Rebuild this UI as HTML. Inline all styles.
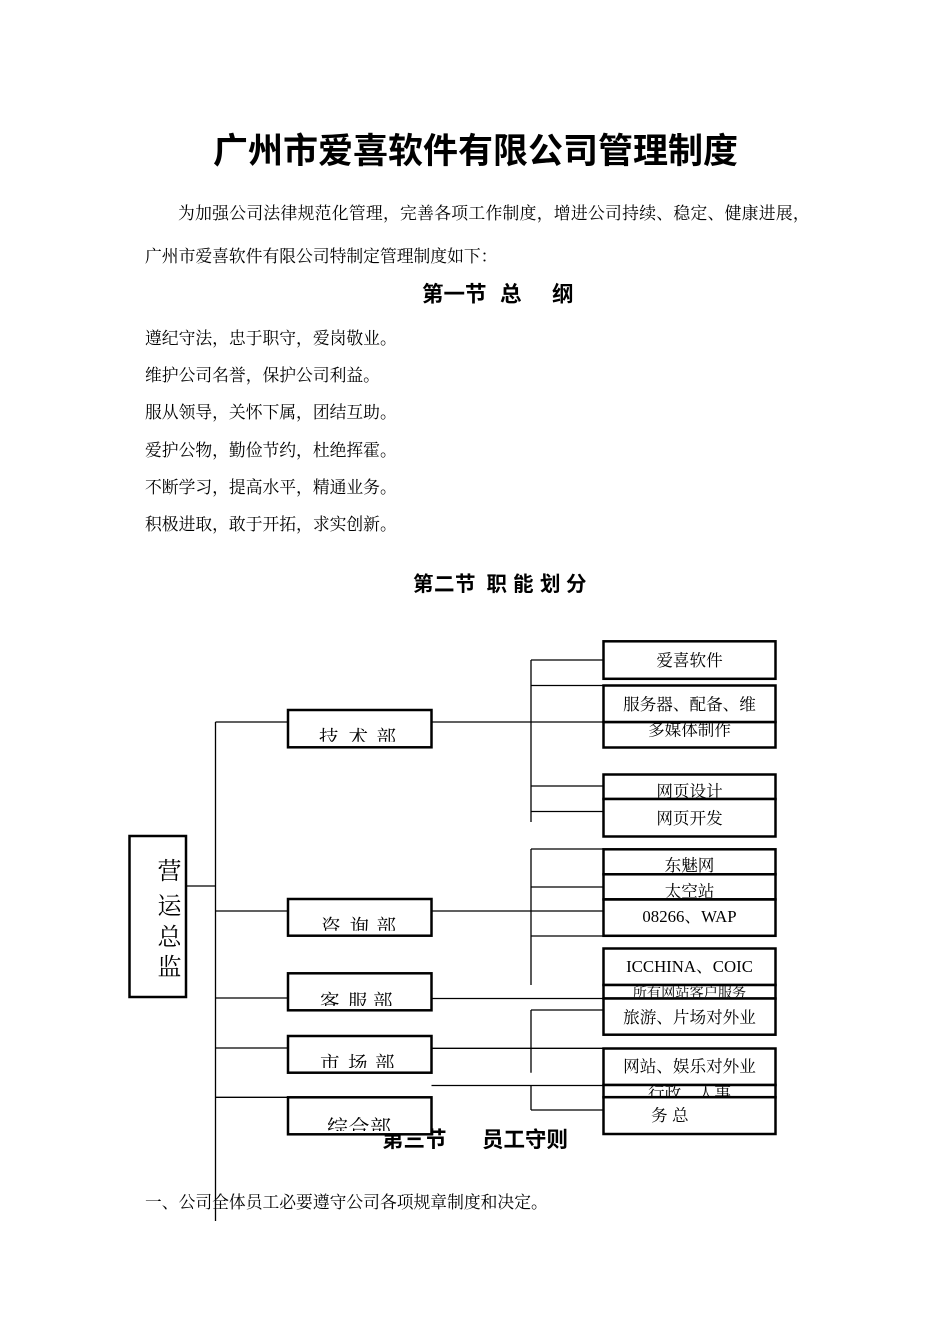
<!DOCTYPE html>
<html>
<head>
<meta charset="utf-8">
<style>
html,body{margin:0;padding:0;background:#fff;width:950px;height:1344px;overflow:hidden}
svg{display:block}
.s{font-family:"Liberation Serif","Noto Serif CJK SC",serif;fill:#000}
.h{font-family:"Liberation Sans","Noto Sans CJK SC",sans-serif;font-weight:700;fill:#000}
.ln{stroke:#000;stroke-width:1.3;fill:none}
.bx{stroke:#000;stroke-width:2.5;fill:#fff}
</style>
</head>
<body>
<svg width="950" height="1344" viewBox="0 0 950 1344" xmlns="http://www.w3.org/2000/svg">
<defs>
  <clipPath id="cd1"><rect x="289" y="711" width="141.5" height="30.8"/></clipPath>
  <clipPath id="cd2"><rect x="289" y="900" width="141.5" height="30.7"/></clipPath>
  <clipPath id="cd3"><rect x="289" y="974.5" width="141.5" height="31.5"/></clipPath>
  <clipPath id="cd4"><rect x="289" y="1037" width="141.5" height="31"/></clipPath>
  <clipPath id="cd5"><rect x="289" y="1098.5" width="141.5" height="32.5"/></clipPath>
  <clipPath id="c3"><rect x="604.75" y="723.25" width="169.5" height="23"/></clipPath>
  <clipPath id="c4"><rect x="604.75" y="775.75" width="169.5" height="22"/></clipPath>
  <clipPath id="c6"><rect x="604.75" y="850.25" width="169.5" height="22.5"/></clipPath>
  <clipPath id="c7"><rect x="604.75" y="875.25" width="169.5" height="22.5"/></clipPath>
  <clipPath id="c10"><rect x="604.75" y="986.25" width="169.5" height="11"/></clipPath>
  <clipPath id="c13"><rect x="604.75" y="1086.25" width="169.5" height="9.7"/></clipPath>
</defs>

<!-- Title and body text -->
<text class="h" x="213" y="163" font-size="35">广州市爱喜软件有限公司管理制度</text>
<text class="s" x="178" y="219.2" font-size="16.8" letter-spacing="0.3">为加强公司法律规范化管理，完善各项工作制度，增进公司持续、稳定、健康进展，</text>
<text class="s" x="145" y="262.2" font-size="16.8">广州市爱喜软件有限公司特制定管理制度如下：</text>
<text class="h" x="422 443.5 465 500 552" y="301.5" font-size="21.5">第一节总纲</text>
<text class="s" x="145" y="344.2" font-size="16.8">遵纪守法，忠于职守，爱岗敬业。</text>
<text class="s" x="145" y="381.2" font-size="16.8">维护公司名誉，保护公司利益。</text>
<text class="s" x="145" y="418.2" font-size="16.8">服从领导，关怀下属，团结互助。</text>
<text class="s" x="145" y="456.2" font-size="16.8">爱护公物，勤俭节约，杜绝挥霍。</text>
<text class="s" x="145" y="493.2" font-size="16.8">不断学习，提高水平，精通业务。</text>
<text class="s" x="145" y="530.2" font-size="16.8">积极进取，敢于开拓，求实创新。</text>
<text class="h" x="413 434 455 486.5 513 540 566" y="591" font-size="20.5">第二节职能划分</text>
<text class="h" x="382 403.5 425 482 503.5 525 546.5" y="1147" font-size="21.5">第三节员工守则</text>
<text class="s" x="145" y="1208.2" font-size="16.8">一、公司全体员工必要遵守公司各项规章制度和决定。</text>

<!-- Connectors -->
<path class="ln" d="M186 886 H215.5 M215.5 722 V1221
 M215.5 722 H288 M215.5 911 H288 M215.5 998 H288 M215.5 1048 H288 M215.5 1097.3 H288
 M431.5 722 H603.5 M431.5 911 H603.5 M431.5 998.5 H603.5 M431.5 1048.3 H603.5 M431.5 1085.5 H603.5
 M531 660 V822 M531 660 H603.5 M531 685.5 H603.5 M531 786 H603.5 M531 811.5 H603.5
 M531 849 V985 M531 849 H603.5 M531 887 H603.5 M531 936 H603.5
 M531 1010 V1072.7 M531 1085.5 V1110 M531 1010 H603.5 M531 1110 H603.5"/>

<!-- 营运总监 -->
<rect class="bx" x="129.5" y="836" width="56.5" height="161"/>
<text class="s" x="169.5" y="879.2" font-size="24" text-anchor="middle">营</text>
<text class="s" x="169.5" y="913.9" font-size="24" text-anchor="middle">运</text>
<text class="s" x="169.5" y="944.9" font-size="24" text-anchor="middle">总</text>
<text class="s" x="169.5" y="974.9" font-size="24" text-anchor="middle">监</text>

<!-- Department boxes -->
<rect class="bx" x="288" y="710" width="143.5" height="37.3"/>
<text class="s" clip-path="url(#cd1)" x="319 348.5 376.5" y="744.2" font-size="19.5">技术部</text>
<rect class="bx" x="288" y="899" width="143.5" height="36.7"/>
<text class="s" clip-path="url(#cd2)" x="321 349.5 376.5" y="933.2" font-size="19.5">咨询部</text>
<rect class="bx" x="288" y="973.3" width="143.5" height="37"/>
<text class="s" clip-path="url(#cd3)" x="320 348 373" y="1008.2" font-size="19.5">客服部</text>
<rect class="bx" x="288" y="1036" width="143.5" height="36.7"/>
<text class="s" clip-path="url(#cd4)" x="320 348 375" y="1070.2" font-size="19.5">市场部</text>
<rect class="bx" x="288" y="1097.3" width="143.5" height="37"/>
<text class="s" clip-path="url(#cd5)" x="327 348.5 370" y="1134.8" font-size="21">综合部</text>

<!-- Right boxes: 技术部 group -->
<rect class="bx" x="603.5" y="641.3" width="172" height="37.5"/>
<text class="s" x="689.5" y="666.1" font-size="16.6" text-anchor="middle">爱喜软件</text>
<rect class="bx" x="603.5" y="722" width="172" height="25.5"/>
<text class="s" clip-path="url(#c3)" x="689.5" y="735.6" font-size="16.6" text-anchor="middle">多媒体制作</text>
<rect class="bx" x="603.5" y="685.5" width="172" height="36.5"/>
<text class="s" x="689.5" y="710.1" font-size="16.6" text-anchor="middle">服务器、配备、维</text>
<rect class="bx" x="603.5" y="774.5" width="172" height="24.5"/>
<text class="s" clip-path="url(#c4)" x="689.5" y="797.2" font-size="16.6" text-anchor="middle">网页设计</text>
<rect class="bx" x="603.5" y="799" width="172" height="37.5"/>
<text class="s" x="689.5" y="824.1" font-size="16.6" text-anchor="middle">网页开发</text>

<!-- 咨询部 group -->
<rect class="bx" x="603.5" y="849.3" width="172" height="25"/>
<text class="s" clip-path="url(#c6)" x="689.5" y="871.1" font-size="16.6" text-anchor="middle">东魅网</text>
<rect class="bx" x="603.5" y="874.3" width="172" height="25"/>
<text class="s" clip-path="url(#c7)" x="689.5" y="897.1" font-size="16.6" text-anchor="middle">太空站</text>
<rect class="bx" x="603.5" y="899.5" width="172" height="36.3"/>
<text class="s" x="689.5" y="921.8" font-size="16.8" text-anchor="middle">08266、WAP</text>
<rect class="bx" x="603.5" y="948.5" width="172" height="36.5"/>
<text class="s" x="689.5" y="971.8" font-size="16.8" text-anchor="middle">ICCHINA、COIC</text>
<rect class="bx" x="603.5" y="985" width="172" height="13.5"/>
<text class="s" clip-path="url(#c10)" x="689.5" y="997.3" font-size="14.2" text-anchor="middle">所有网站客户服务</text>

<!-- 客服/市场/综合 group -->
<rect class="bx" x="603.5" y="998.5" width="172" height="36.2"/>
<text class="s" x="689.5" y="1023.1" font-size="16.6" text-anchor="middle">旅游、片场对外业</text>
<rect class="bx" x="603.5" y="1048.5" width="172" height="36.5"/>
<text class="s" x="689.5" y="1072.1" font-size="16.6" text-anchor="middle">网站、娱乐对外业</text>
<rect class="bx" x="603.5" y="1085" width="172" height="12.2"/>
<text class="s" clip-path="url(#c13)" x="689.5" y="1099.1" font-size="16.6" text-anchor="middle">行政、人事</text>
<rect class="bx" x="603.5" y="1097.2" width="172" height="36.8"/>
<text class="s" x="651 672" y="1121.1" font-size="16.6">务总</text>
</svg>
</body>
</html>
